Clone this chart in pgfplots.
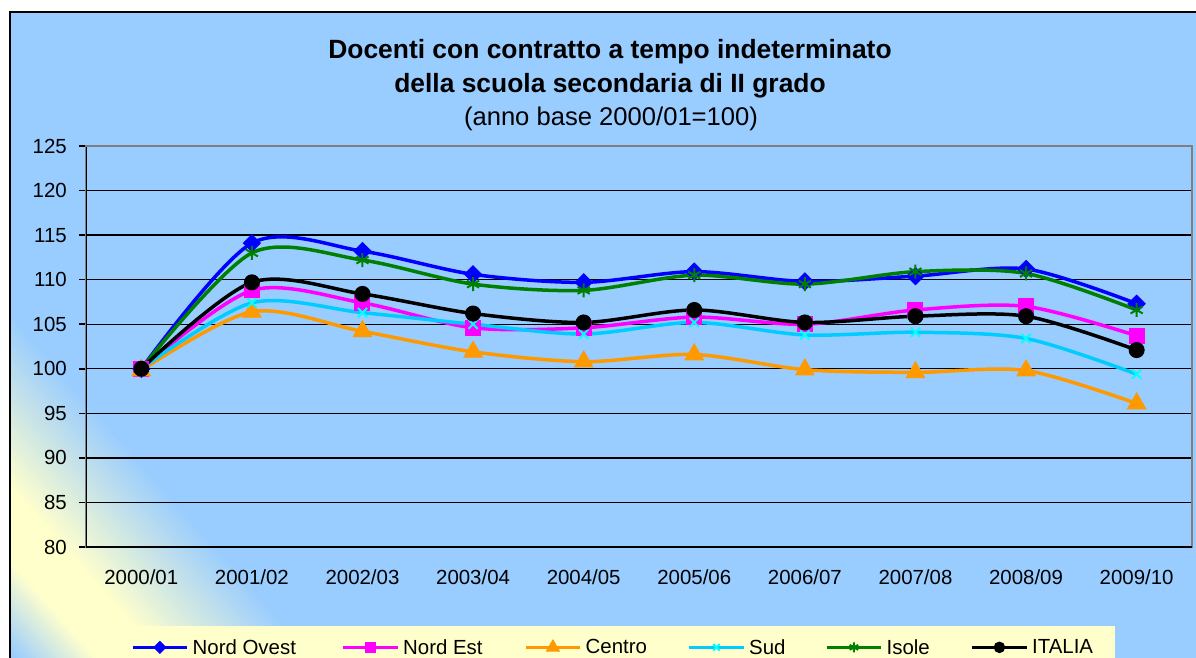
\documentclass[border=0pt]{standalone}
\usepackage{fontspec}
\setmainfont{Liberation Sans}
\usepackage{pgfplots}
\pgfplotsset{compat=1.18}
\definecolor{bgblue}{HTML}{99CCFF}
\definecolor{lyellow}{HTML}{FFFFCC}
\definecolor{cOvest}{HTML}{0000FF}
\definecolor{cEst}{HTML}{FF00FF}
\definecolor{cCentro}{HTML}{FF9900}
\definecolor{cSud}{HTML}{00CCFF}
\definecolor{cSudm}{HTML}{00FFFF}
\definecolor{cIsole}{HTML}{008000}
\newcommand{\tfont}{\fontsize{20.5}{24}\selectfont}
\begin{document}
\begin{tikzpicture}
\useasboundingbox (0,0) rectangle (1196bp,-658bp);
\clip (0,0) rectangle (1196bp,-658bp);
\fill[white] (0,0) rectangle (1196bp,-658bp);
\begin{scope}
\clip (10bp,-12bp) rectangle (1220bp,-700bp);
\fill[bgblue] (10bp,-12bp) rectangle (1220bp,-700bp);
\begin{scope}[shift={(67bp,-575bp)}, rotate=41.5, x=1bp, y=1bp]
\foreach \t in {-96,-93,...,132} {
  \pgfmathtruncatemacro{\p}{\t<-35 ? (\t+96)/61*100 : (\t<15 ? 100 : max(0,(130-\t)/115*100))}
  \fill[lyellow!\p!bgblue] (\t,-500) rectangle ({\t+3.6},500);
}
\end{scope}
\end{scope}
\draw[black, line width=2bp] (1220bp,-12bp) -- (10bp,-12bp) -- (10bp,-700bp);
\node[anchor=base, font=\bfseries\fontsize{26.5}{30}\selectfont, inner sep=0pt] at (610bp,-58bp) {Docenti con contratto a tempo indeterminato};
\node[anchor=base, font=\bfseries\fontsize{26.5}{30}\selectfont, inner sep=0pt] at (610bp,-92bp) {della scuola secondaria di II grado};
\node[anchor=base, font=\fontsize{25.7}{30}\selectfont, inner sep=0pt] at (611bp,-125bp) {(anno base 2000/01=100)};
\begin{axis}[
  at={(86bp,-547bp)}, anchor=south west,
  scale only axis, width=1106bp, height=401bp,
  xmin=-0.5, xmax=9.5, ymin=80, ymax=125,
  xtick={0,...,9},
  xticklabels={2000/01,2001/02,2002/03,2003/04,2004/05,2005/06,2006/07,2007/08,2008/09,2009/10},
  major x tick style={draw=none},
  extra x ticks={-0.5,0.5,...,9.5},
  extra x tick labels={},
  extra x tick style={grid=none, major tick length=7bp, tick style={black, line width=1.5bp}},
  ytick={80,85,...,125},
  ymajorgrids,
  grid style={black, line width=1.3bp},
  tick align=outside, tick pos=left,
  major tick length=7bp,
  tick style={black, line width=1.5bp},
  axis line style={draw=gray, line width=1.2bp},
  ticklabel style={font=\tfont},
  /pgf/number format/assume math mode=true,
  yticklabel style={inner sep=0pt, anchor=east, xshift=-12bp},
  xticklabel style={inner sep=0pt, anchor=north, yshift=-15bp},
  legend columns=6,
  legend style={at={(axis description cs:0.0226,-0.197)}, anchor=north west,
    fill=lyellow, draw=none, font=\tfont, inner xsep=20bp, inner ysep=13bp,
    nodes={inner sep=0pt},
    /tikz/every odd column/.append style={column sep=4bp},
    /tikz/every even column/.append style={column sep=40bp}},
  legend image code/.code={%
    \draw[mark repeat=2,mark phase=2,#1,/tikz/every mark/.append style={scale=0.7}] plot coordinates {(0bp,0bp) (27bp,0bp) (54bp,0bp)};},
  every axis plot/.append style={line width=3.5bp, smooth, tension=0.5},
]
\addplot[color=cOvest, mark=diamond*, mark size=8.5bp, mark options={fill=cOvest, line width=1bp, xscale=1.33}] coordinates {
 (0,100) (1,114.1) (2,113.2) (3,110.6) (4,109.7) (5,110.9) (6,109.8) (7,110.4) (8,111.2) (9,107.3)};
\addlegendentry{\makebox[109bp][l]{Nord Ovest}}
\addplot[color=cEst, mark=square*, mark size=7.5bp, mark options={fill=cEst, line width=1bp}] coordinates {
 (0,100) (1,108.8) (2,107.4) (3,104.6) (4,104.6) (5,105.8) (6,105.0) (7,106.6) (8,107.0) (9,103.7)};
\addlegendentry{\makebox[81bp][l]{Nord Est}}
\addplot[color=cCentro, mark=triangle*, mark size=10.5bp, mark options={fill=cCentro, line width=1bp}] coordinates {
 (0,99.8) (1,106.4) (2,104.2) (3,101.9) (4,100.8) (5,101.6) (6,99.9) (7,99.6) (8,99.8) (9,96.1)};
\addlegendentry{\makebox[62bp][l]{Centro}}
\addplot[color=cSud, mark=x, mark size=6.5bp, mark options={draw=cSudm, line width=2bp}] coordinates {
 (0,100) (1,107.4) (2,106.3) (3,105.0) (4,103.9) (5,105.2) (6,103.8) (7,104.1) (8,103.4) (9,99.4)};
\addlegendentry{\makebox[36bp][l]{Sud}}
\addplot[color=cIsole, mark=asterisk, mark size=7bp, mark options={line width=2bp}] coordinates {
 (0,100) (1,113.0) (2,112.2) (3,109.5) (4,108.8) (5,110.5) (6,109.5) (7,110.9) (8,110.7) (9,106.6)};
\addlegendentry{\makebox[44bp][l]{Isole}}
\addplot[color=black, mark=*, mark size=7.5bp, mark options={fill=black, line width=1bp}] coordinates {
 (0,100) (1,109.7) (2,108.4) (3,106.2) (4,105.2) (5,106.6) (6,105.2) (7,105.9) (8,105.9) (9,102.1)};
\addlegendentry{\makebox[63bp][l]{ITALIA}}
\draw[black, line width=2bp] (rel axis cs:0,1) -- (rel axis cs:0,0) -- (rel axis cs:1,0);
\draw[gray, line width=1.2bp] (rel axis cs:0,1) -- (rel axis cs:1,1);
\end{axis}
\end{tikzpicture}
\end{document}
